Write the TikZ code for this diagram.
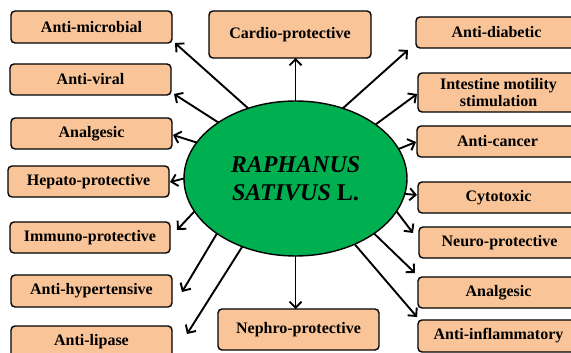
\documentclass[tikz,border=0pt]{standalone}
\usepackage{fontspec}
\setmainfont{Liberation Serif}
\usetikzlibrary{shapes.geometric,arrows.meta,calc}
\definecolor{peach}{RGB}{249,196,152}
\definecolor{leaf}{RGB}{0,176,80}
\begin{document}
\begin{tikzpicture}[x=1pt,y=-1pt,
  box/.style={draw=black, line width=1.4pt, fill=peach, rounded corners=4pt,
    anchor=north west, inner sep=0pt, outer sep=0pt, align=center,
    font=\fontsize{16}{17}\selectfont\bfseries},
  arr/.style={line width=1.9pt, -{Straight Barb[length=6pt,width=12pt]}}]
\clip (0,0) rectangle (571,353);
\useasboundingbox (0,0) rectangle (571,353);
% left column
\node[box, minimum width=161pt, minimum height=32pt] (am) at (11,11) {Anti-microbial};
\node[box, minimum width=161pt, minimum height=31pt] (av) at (10,64) {Anti-viral};
\node[box, minimum width=161pt, minimum height=31pt] (anl) at (11,118) {Analgesic};
\node[box, minimum width=161pt, minimum height=31pt] (hp) at (8,166) {Hepato-protective};
\node[box, minimum width=160pt, minimum height=31pt] (im) at (10,222) {Immuno-protective};
\node[box, minimum width=161pt, minimum height=32pt] (ah) at (11,275) {Anti-hypertensive};
\node[box, minimum width=161pt, minimum height=32pt] (al) at (11,326) {Anti-lipase};
% middle
\node[box, minimum width=162pt, minimum height=47pt] (cp) at (209,11) {Cardio-protective};
\node[box, minimum width=161pt, minimum height=41pt] (np) at (218,309) {Nephro-protective};
% right column
\node[box, minimum width=161pt, minimum height=31pt] (ad) at (416,17) {Anti-diabetic};
\node[box, minimum width=161pt, minimum height=39pt] (it) at (418,73) {Intestine motility\\stimulation};
\node[box, minimum width=161pt, minimum height=31pt] (ac) at (417,126) {Anti-cancer};
\node[box, minimum width=161pt, minimum height=31pt] (ct) at (418,182) {Cytotoxic};
\node[box, minimum width=161pt, minimum height=31pt] (nr) at (419,227) {Neuro-protective};
\node[box, minimum width=161pt, minimum height=31pt] (anr) at (418,277) {Analgesic};
\node[box, minimum width=161pt, minimum height=32pt] (ai) at (418,320) {Anti-inflammatory};
% centre
\node[ellipse, draw=black, line width=1.4pt, fill=leaf, minimum width=223pt,
  minimum height=155pt, inner sep=0pt, outer sep=0pt, align=center,
  font=\fontsize{24}{28}\selectfont\bfseries] (c) at (295.5,178.5)
  {\textit{RAPHANUS}\\\textit{SATIVUS} L.};
% arrows
\draw[arr] (c.124.2) -- ($(am.south east)+(3,0)$);
\draw[arr] (c.144.9) -- ($(av.south east)+(3,-1)$);
\draw[arr] (c.160.5) -- ($(anl.east)+(1,1.5)$);
\draw[arr] (c.180) -- ($(hp.east)+(1,0.5)$);
\draw[arr] (c.198.6) -- ($(im.east)+(7,-7.5)$);
\draw[arr] (c.215.1) -- ($(ah.east)+(10,1)$);
\draw[arr] (c.232.8) -- ($(al.north east)+(15,8)$);
\draw[arr] (c.north) -- (c.north |- cp.south);
\draw[arr] (c.south) -- (c.south |- np.north);
\draw[arr] (c.56.6) -- ($(ad.south west)+(-8,2)$);
\draw[arr] (c.34.4) -- ($(it.west)+(-1,1.5)$);
\draw[arr] (c.16.8) -- ($(ac.west)+(-1,0.5)$);
\draw[arr] (c.-8.1) -- ($(ct.west)+(-1,-2.5)$);
\draw[arr] (c.-18.6) -- ($(nr.north west)+(-6,6)$);
\draw[arr] (c.-35.4) -- ($(anr.north west)+(-3,-4)$);
\draw[arr] (c.-48.2) -- ($(ai.north west)+(-1,-3)$);
\end{tikzpicture}
\end{document}
